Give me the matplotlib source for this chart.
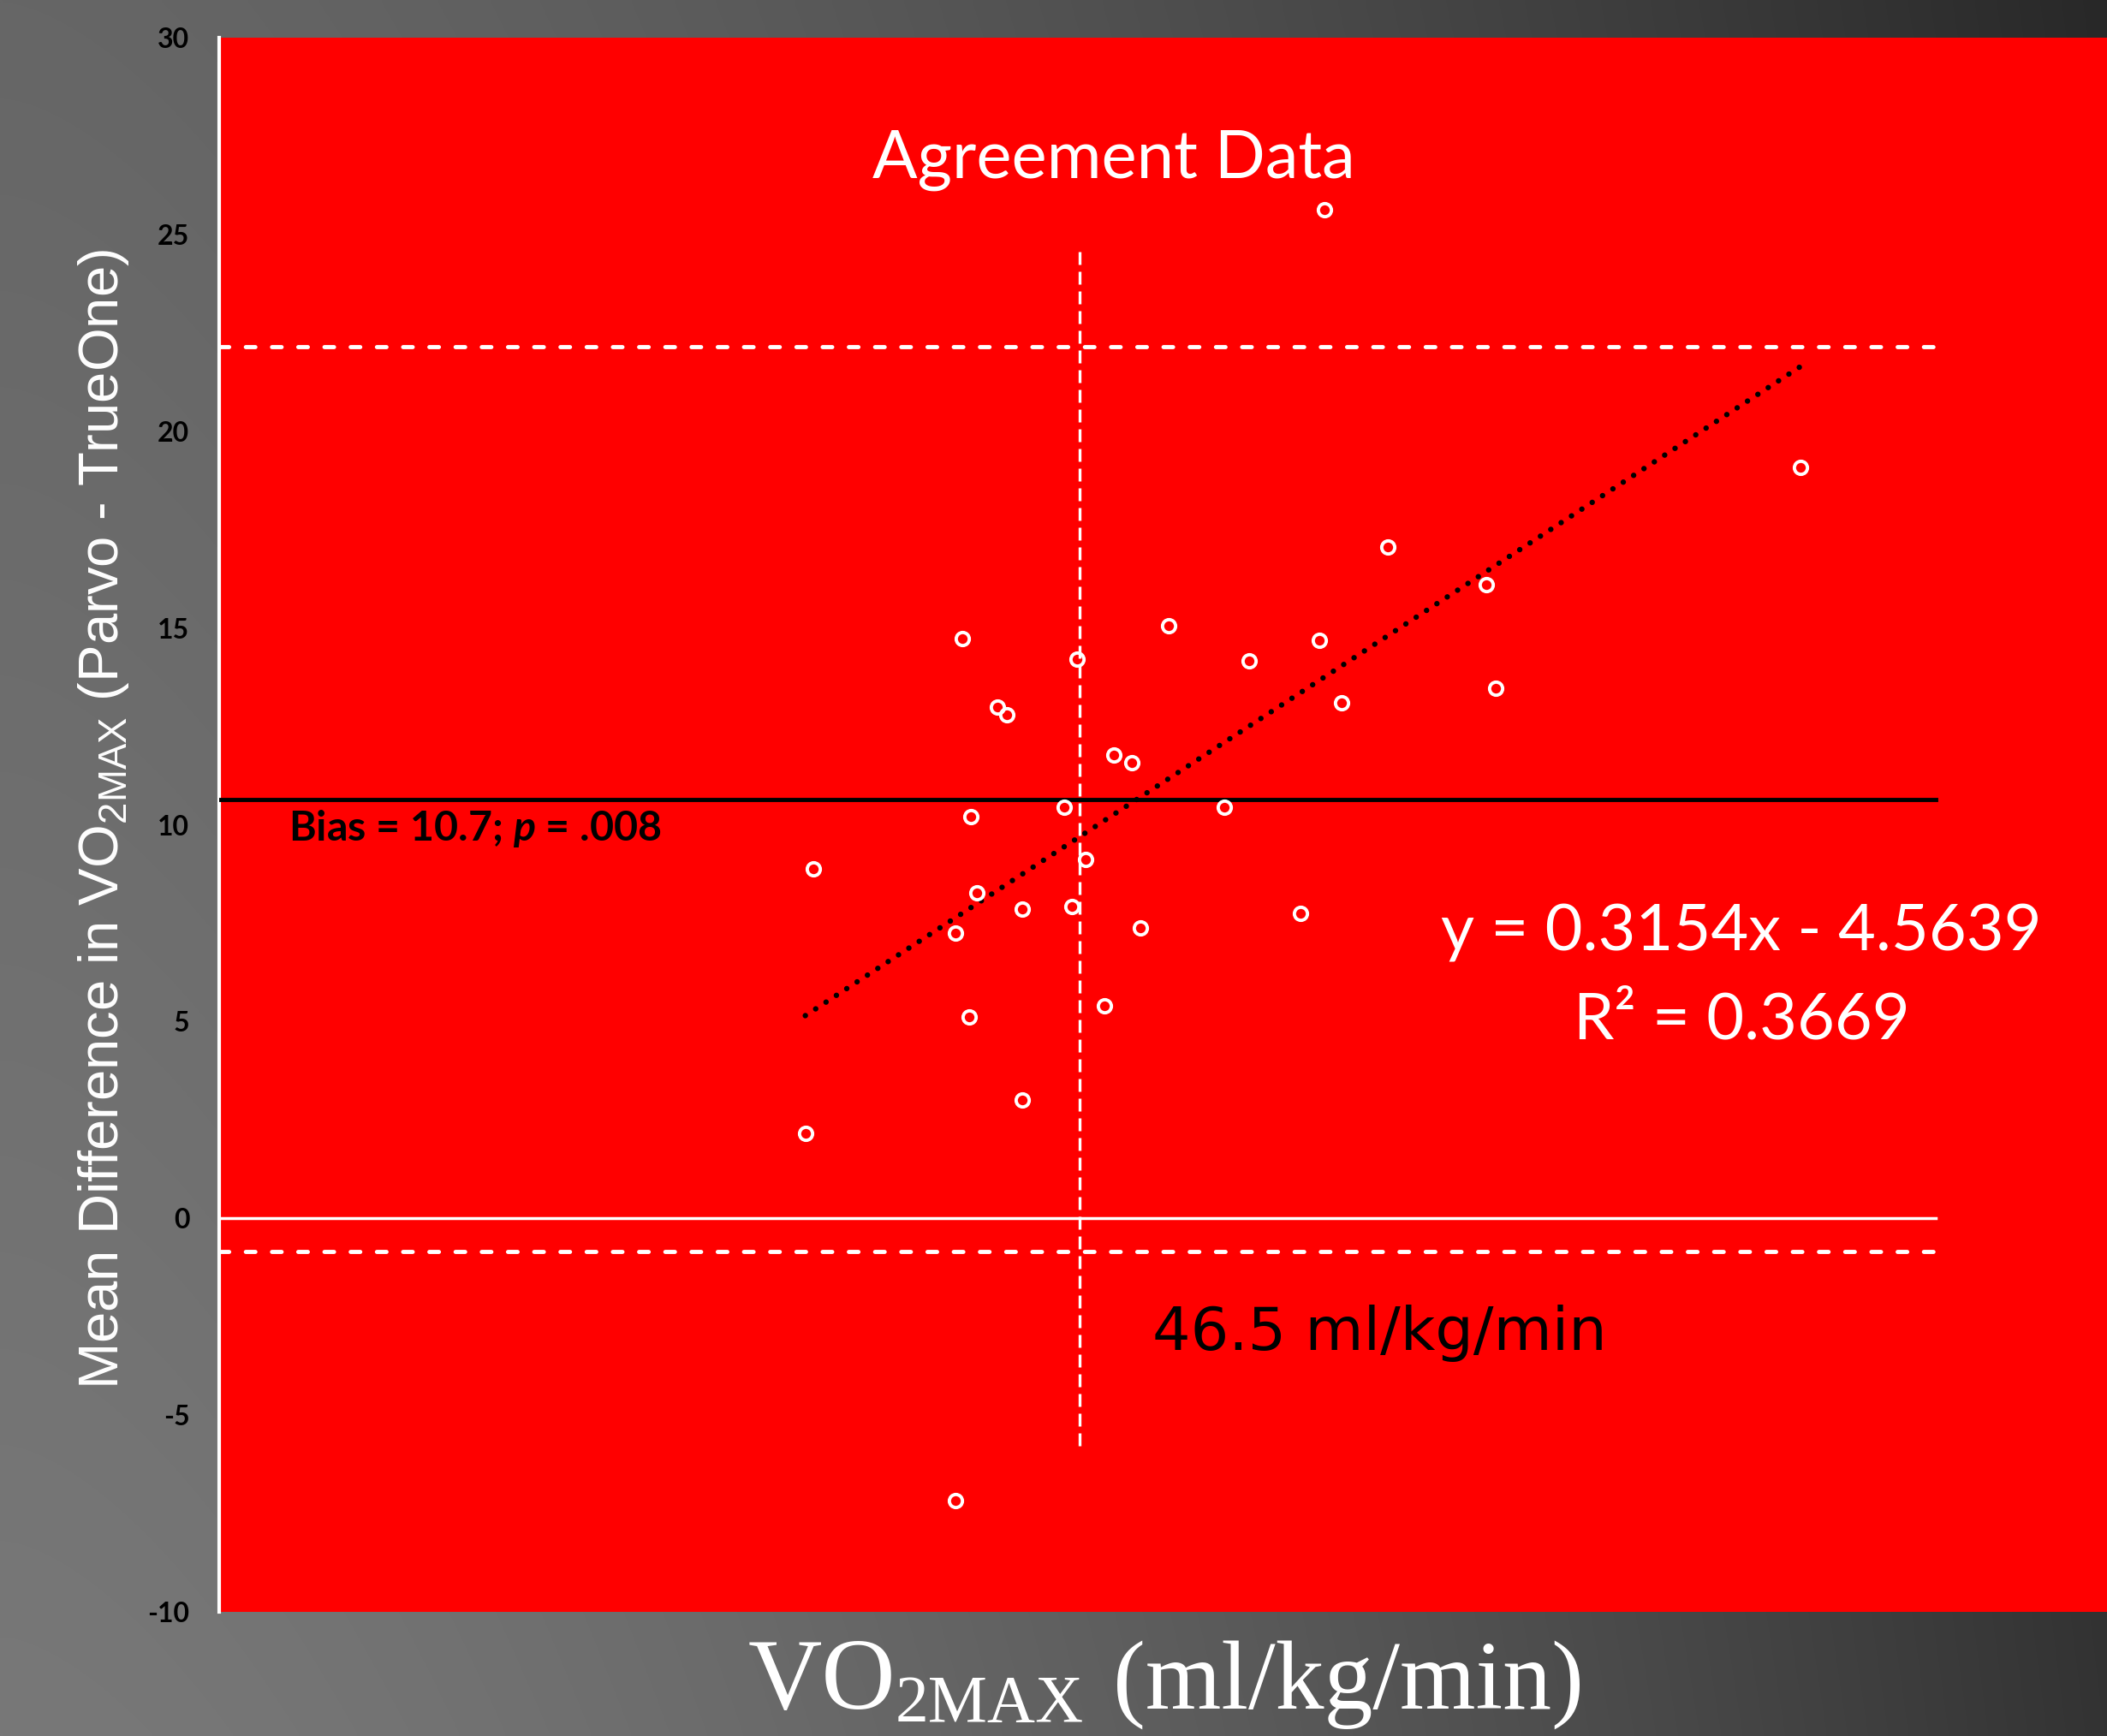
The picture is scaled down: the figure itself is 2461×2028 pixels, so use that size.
import numpy as np
import matplotlib
matplotlib.use("Agg")
import matplotlib.pyplot as plt

# ---------------- data ----------------
vo2_mean = [58.1, 83.1, 61.4, 66.6, 39.05, 49.9, 57.8, 45.1, 54.1, 67.1,
            59.0, 40.9, 41.4, 47.0, 47.95, 44.4, 52.8, 39.5, 31.2, 45.55,
            39.8, 42.2, 44.8, 56.8, 48.4, 38.7, 46.5, 39.4, 42.2, 30.8, 38.7]
vo2_diff = [25.63, 19.08, 17.06, 16.11, 14.74, 15.05, 14.68, 14.2, 14.16, 13.48,
            13.1, 13.0, 12.8, 11.77, 11.57, 10.44, 10.44, 10.2, 8.87, 9.11,
            8.26, 7.85, 7.92, 7.75, 7.37, 7.24, 5.39, 5.12, 3.0, 2.15, -7.17]
bias = 10.65
loa_upper = 22.15
loa_lower = -0.85
zero_level = 0.0
trend_slope = 0.3154
trend_intercept = -4.5639
ref_vo2 = 45.2          # position of the "46.5 ml/kg/min" marker line
ref_span = [-5.77, 24.6]
line_x_end = 90.2
y_ticks = [-10, -5, 0, 5, 10, 15, 20, 25, 30]

W, H = 2461, 2028
fig = plt.figure(figsize=(W / 100, H / 100), dpi=100)

# ---------------- gradient background ----------------
bg = fig.add_axes([0, 0, 1, 1], zorder=-10)
xx = np.linspace(0, 1, 400)
yy = np.linspace(0, 1, 330)
X, Y = np.meshgrid(xx, yy)
L = 102 + (120 - 102) * Y
R = 40 + (51 - 40) * Y
V = (L - (L - R) * X ** 1.6) / 255.0
bg.imshow(np.dstack([V, V, V]), extent=[0, 1, 0, 1], aspect='auto',
          origin='upper', interpolation='bilinear')
bg.set_axis_off()

# ---------------- main axes ----------------
left, right, top, bottom = 256, 2461, 44, 1883
ax = fig.add_axes([left / W, 1 - bottom / H, (right - left) / W, (bottom - top) / H])
ax.set_facecolor('#ff0000')
ax.set_xlim(0, 99.2)
ax.set_ylim(-10, 30)
ax.set_xticks([])
ax.set_yticks(y_ticks)
ax.set_yticklabels([str(t) for t in y_ticks])
ax.tick_params(axis='y', length=0, pad=25, labelsize=23, labelcolor='black')
for lab in ax.get_yticklabels():
    lab.set_fontweight('bold')
    lab.set_family('Lato')
for s in ['top', 'right', 'bottom']:
    ax.spines[s].set_visible(False)
ax.spines['left'].set_color('white')
ax.spines['left'].set_linewidth(3)

# reference lines
ax.plot([0, line_x_end], [bias, bias], color='black', lw=3.5, zorder=3)
ax.plot([0, line_x_end], [zero_level, zero_level], color='white', lw=2.5, zorder=3)
for lv in (loa_upper, loa_lower):
    ax.plot([0, line_x_end], [lv, lv], color='white', lw=3.5,
            linestyle=(0, (2.3, 4.0)), dash_capstyle='round', zorder=3)
ax.plot([ref_vo2, ref_vo2], ref_span, color='white', lw=2.4,
        linestyle=(0, (4.5, 2.4)), zorder=3)

# trend line
xs = np.array([min(vo2_mean), max(vo2_mean)])
ax.plot(xs, trend_slope * xs + trend_intercept, color='black', lw=4.6,
        linestyle=(0, (0.01, 2.25)), dash_capstyle='round', zorder=4)

# points
ax.plot(vo2_mean, vo2_diff, 'o', mfc='none', mec='white', ms=11, mew=2.8, zorder=5)

# ---------------- texts ----------------
plt.rcParams['mathtext.it'] = 'Lato:italic:bold'
plt.rcParams['mathtext.rm'] = 'Lato:bold'

fig.text(1301 / W, 1 - 208 / H, 'Agreement Data', ha='center', va='baseline',
         color='white', fontsize=56, family='Lato')
fig.text(337 / W, 1 - 982 / H, r'Bias = 10.7; $p$ = .008', ha='left', va='baseline',
         color='black', fontsize=34.8, fontweight='bold', family='Lato',
         math_fontfamily='custom')
fig.text(2034 / W, 1 - 1110 / H, 'y = 0.3154x - 4.5639', ha='center', va='baseline',
         color='white', fontsize=54.5, family='Lato')
fig.text(2034 / W, 1 - 1213 / H, 'R² = 0.3669', ha='center', va='baseline',
         color='white', fontsize=54.5, family='Lato')
fig.text(1346 / W, 1 - 1577 / H, '46.5 ml/kg/min', ha='left', va='baseline',
         color='black', fontsize=50.5, family='DejaVu Sans')

fig.text(121 / W, 1 - 957 / H, r'Mean Difference in VO$\mathregular{_{2MAX}}$ (Parvo - TrueOne)',
         rotation=90, ha='center', va='center', color='white', fontsize=47,
         family='Liberation Sans')

# x-axis title, built from pieces so the subscript sits low as in the original
fig.text(874 / W, 1 - 1996 / H, 'VO', ha='left', va='baseline', color='white',
         fontsize=86, family='Liberation Serif')
fig.text(1046 / W, 1 - 2011 / H, '2MAX', ha='left', va='baseline', color='white',
         fontsize=56, family='Liberation Serif')
fig.text(1300 / W, 1 - 1996 / H, '(ml/kg/min)', ha='left', va='baseline', color='white',
         fontsize=82, family='Liberation Serif')

fig.savefig('out.png', dpi=100)
